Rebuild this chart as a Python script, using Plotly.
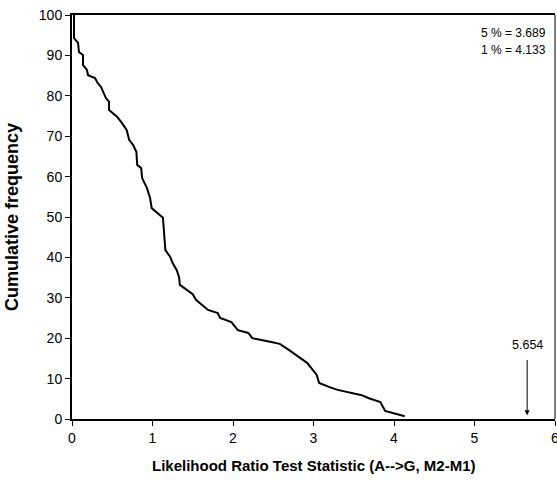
import plotly.graph_objects as go

lrt_stat = [0.025, 0.025, 0.075, 0.087, 0.137, 0.137, 0.186, 0.199, 0.286, 0.311,
            0.36, 0.385, 0.42, 0.46, 0.46, 0.56, 0.62, 0.68, 0.71, 0.76,
            0.80, 0.81, 0.86, 0.87, 0.93, 0.97, 0.99, 1.13, 1.16, 1.22,
            1.25, 1.30, 1.33, 1.34, 1.50, 1.54, 1.59, 1.69, 1.81, 1.84,
            1.98, 2.06, 2.19, 2.24, 2.46, 2.58, 2.68, 2.83, 2.92, 3.04,
            3.07, 3.20, 3.30, 3.60, 3.68, 3.83, 3.86, 3.89, 4.133]
cum_freq = [100, 94.3, 93.1, 90.8, 90.1, 87.6, 86.4, 85.1, 84.4, 83.4,
            82.2, 80.9, 79.5, 78.5, 76.5, 74.8, 73.3, 71.5, 69.1, 67.8,
            66.1, 62.9, 62.1, 59.7, 57.2, 54.7, 52.2, 49.8, 41.8, 40.1,
            38.6, 36.9, 35.1, 33.2, 30.9, 29.5, 28.7, 27.0, 26.2, 25.0,
            24.0, 22.0, 21.3, 20.0, 19.1, 18.6, 17.3, 15.3, 13.9, 10.9,
            8.9, 7.9, 7.2, 5.9, 5.2, 4.2, 3.0, 2.0, 0.7]

x_ticks = [0, 1, 2, 3, 4, 5, 6]
y_ticks = [0, 10, 20, 30, 40, 50, 60, 70, 80, 90, 100]
crit_labels = ["5 % = 3.689", "1 % = 4.133"]
observed = 5.654
x_title = "Likelihood Ratio Test Statistic (A-->G, M2-M1)"
y_title = "Cumulative frequency"

FONT = "Liberation Sans, Arial, sans-serif"

fig = go.Figure()
fig.add_trace(go.Scatter(x=lrt_stat, y=cum_freq, mode="lines",
                         line=dict(color="black", width=2), showlegend=False,
                         hoverinfo="skip"))

fig.update_layout(
    width=557, height=485,
    margin=dict(l=72, r=2, t=15, b=66),
    paper_bgcolor="white", plot_bgcolor="white",
    font=dict(family=FONT, size=14, color="black"),
    xaxis=dict(range=[0, 6], tickvals=x_ticks, ticktext=[str(v) for v in x_ticks],
               showgrid=False, zeroline=False, showline=True, linecolor="black",
               linewidth=2, mirror=True, ticks="outside", ticklen=5, tickcolor="black",
               tickfont=dict(size=14), automargin=False, ticklabeloverflow="allow"),
    yaxis=dict(range=[0, 100], tickvals=y_ticks, ticktext=[str(v) for v in y_ticks],
               showgrid=False, zeroline=False, showline=True, linecolor="black",
               linewidth=2, ticks="outside", ticklen=5, tickcolor="black",
               tickfont=dict(size=14), automargin=False, ticklabeloverflow="allow"),
)

# thin right border of plot area
fig.add_shape(type="line", xref="paper", yref="paper", x0=1, x1=1, y0=0, y1=1,
              line=dict(color="black", width=1))

# axis titles
fig.add_annotation(x=0.5, y=-0.116, xref="paper", yref="paper", text=f"<b>{x_title}</b>",
                   showarrow=False, xanchor="center", yanchor="middle",
                   font=dict(size=15))
fig.add_annotation(x=-0.124, y=0.5, xref="paper", yref="paper", text=f"<b>{y_title}</b>",
                   showarrow=False, textangle=-90, xanchor="center", yanchor="middle",
                   font=dict(size=18))

for i, txt in enumerate(crit_labels):
    fig.add_annotation(x=5.05, y=95.6 - 4.2 * i, xref="x", yref="y", text=txt,
                       showarrow=False, xanchor="left", yanchor="middle",
                       font=dict(size=12))

fig.add_annotation(x=observed, y=18.3, xref="x", yref="y", text=f"{observed}",
                   showarrow=False, xanchor="center", yanchor="middle",
                   font=dict(size=12.5))
fig.add_annotation(x=observed, y=0.9, ax=observed, ay=15, xref="x", yref="y",
                   axref="x", ayref="y", text="", showarrow=True, arrowhead=2,
                   arrowsize=1, arrowwidth=1, arrowcolor="black")

fig.write_html("out.html", config={"displayModeBar": False},
               post_script="document.body.style.margin='0';")
